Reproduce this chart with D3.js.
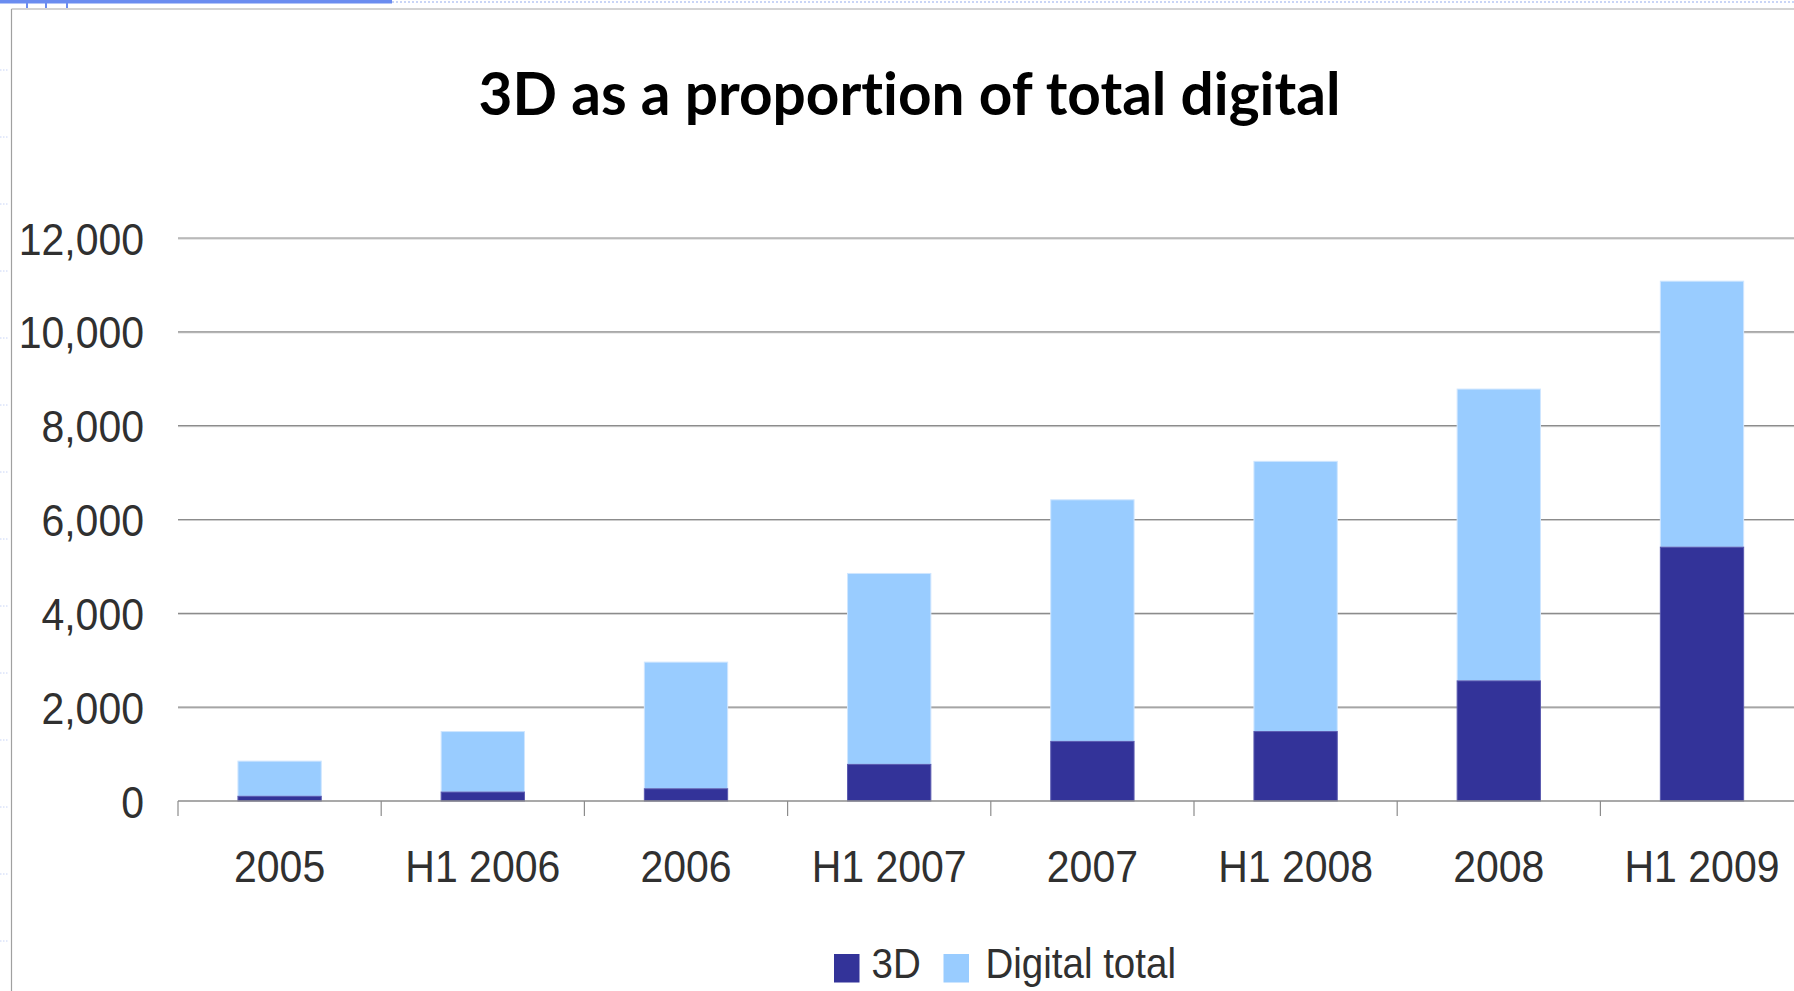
<!DOCTYPE html>
<html>
<head>
<meta charset="utf-8">
<script src="https://cdn.jsdelivr.net/npm/d3@7"></script>
<style>
  html, body { margin: 0; padding: 0; background: #ffffff; }
  svg { display: block; }
  .title { font-variant-ligatures: none; font-feature-settings: "liga" 0, "clig" 0; }
</style>
</head>
<body>
<svg id="chart" width="1794" height="991"></svg>
<script>
// Digital cinema screens: 3D screens vs. all digital screens
const categories = ["2005", "H1 2006", "2006", "H1 2007", "2007", "H1 2008", "2008", "H1 2009"];
const threeD = [100, 190, 260, 780, 1270, 1480, 2560, 5410];
const digitalTotal = [850, 1480, 2960, 4850, 6420, 7240, 8780, 11080];
const yTicks = [0, 2000, 4000, 6000, 8000, 10000, 12000];
const seriesNames = ["3D", "Digital total"];
const seriesColors = ["#333399", "#99ccff"];

const W = 1794, H = 991;
const svg = d3.select("#chart");

// slide frame and ruler strip along the top edge
svg.append("rect").attr("x", 0).attr("y", 0).attr("width", W).attr("height", H).attr("fill", "#ffffff");
svg.append("line").attr("x1", 11.5).attr("x2", 11.5).attr("y1", 9).attr("y2", H)
  .attr("stroke", "#a0a0a0").attr("stroke-width", 1.2);
svg.append("line").attr("x1", 11.5).attr("x2", W).attr("y1", 9).attr("y2", 9)
  .attr("stroke", "#a8a8a8").attr("stroke-width", 1.2);
svg.append("rect").attr("x", 0).attr("y", 0).attr("width", 392).attr("height", 3.5).attr("fill", "#6a8cf0");
svg.append("line").attr("x1", 392).attr("x2", W).attr("y1", 2).attr("y2", 2)
  .attr("stroke", "#b8c8f4").attr("stroke-width", 1.5).attr("stroke-dasharray", "2,2");
[27, 46, 67].forEach(px => {
  svg.append("line").attr("x1", px).attr("x2", px).attr("y1", 0).attr("y2", 8)
    .attr("stroke", "#6a8cf0").attr("stroke-width", 2);
});
d3.range(70, H, 67).forEach(py => {
  svg.append("line").attr("x1", 0).attr("x2", 8).attr("y1", py).attr("y2", py)
    .attr("stroke", "#c8d4f6").attr("stroke-width", 1).attr("stroke-dasharray", "1.5,1.5");
});

// title
svg.append("text")
  .attr("class", "title")
  .attr("x", 478.5).attr("y", 115)
  .attr("font-family", "Lato, 'Open Sans', sans-serif")
  .attr("font-weight", 700)
  .attr("font-size", 60)
  .attr("textLength", 862)
  .attr("lengthAdjust", "spacingAndGlyphs")
  .attr("fill", "#000000")
  .text("3D as a proportion of total digital");

// scales
const left = 178, right = 178 + 8 * 203.2;
const x = d3.scaleBand().domain(categories).range([left, right])
  .paddingInner(0.59).paddingOuter(0.295);
const y = d3.scaleLinear().domain([0, 12000]).range([801, 238]);

const labelFont = "'Liberation Sans', Arial, sans-serif";
const textColor = "#303030";

// horizontal gridlines
const grid = svg.append("g");
yTicks.filter(t => t > 0).forEach(t => {
  grid.append("line").attr("x1", left).attr("x2", W).attr("y1", y(t) + 1).attr("y2", y(t) + 1)
    .attr("stroke", "#cccccc").attr("stroke-width", 1);
  grid.append("line").attr("x1", left).attr("x2", W).attr("y1", y(t)).attr("y2", y(t))
    .attr("stroke", "#8c8c8c").attr("stroke-width", 1.2);
});

// y axis labels
const yAxis = svg.append("g").attr("transform", `translate(${left},0)`)
  .call(d3.axisLeft(y).tickValues(yTicks).tickFormat(d3.format(",")).tickSize(0).tickPadding(34));
yAxis.select(".domain").remove();
yAxis.selectAll("text")
  .attr("font-family", labelFont).attr("font-size", 41).attr("fill", textColor)
  .attr("y", 0).attr("dy", "0.358em")
  .attr("transform", "scale(1,1.1)");

// stacked bars: 3D at the base, remainder of the digital total above
const bars = svg.append("g");
bars.selectAll("rect.total").data(categories).join("rect")
  .attr("class", "total")
  .attr("x", d => x(d)).attr("width", x.bandwidth())
  .attr("y", (d, i) => y(digitalTotal[i]))
  .attr("height", (d, i) => y(threeD[i]) - y(digitalTotal[i]))
  .attr("fill", seriesColors[1]).attr("stroke", "#cfe6ff").attr("stroke-width", 1);
bars.selectAll("rect.threeD").data(categories).join("rect")
  .attr("class", "threeD")
  .attr("x", d => x(d)).attr("width", x.bandwidth())
  .attr("y", (d, i) => y(threeD[i]))
  .attr("height", (d, i) => y(0) - y(threeD[i]))
  .attr("fill", seriesColors[0]).attr("stroke", "#5a5ab0").attr("stroke-width", 1);

// x axis line, category separators and labels
svg.append("line").attr("x1", left).attr("x2", W).attr("y1", y(0)).attr("y2", y(0))
  .attr("stroke", "#8c8c8c").attr("stroke-width", 1.5);
const step = x.step();
d3.range(categories.length + 1).forEach(k => {
  const px = left + k * step;
  svg.append("line").attr("x1", px).attr("x2", px).attr("y1", y(0)).attr("y2", y(0) + 15)
    .attr("stroke", "#8c8c8c").attr("stroke-width", 1.2);
});
const xAxis = svg.append("g").attr("transform", `translate(0,${y(0)})`)
  .call(d3.axisBottom(x).tickSize(0));
xAxis.select(".domain").remove();
xAxis.selectAll("text")
  .attr("font-family", labelFont).attr("font-size", 41).attr("fill", textColor)
  .attr("y", 0).attr("dy", "0.358em")
  .attr("transform", "translate(0,64.5) scale(1,1.1)");

// legend
const legendItems = [
  { name: seriesNames[0], color: seriesColors[0], sx: 834, tx: 871.5 },
  { name: seriesNames[1], color: seriesColors[1], sx: 943.5, tx: 985.5 }
];
const legend = svg.append("g");
legendItems.forEach(it => {
  legend.append("rect").attr("x", it.sx).attr("y", 954).attr("width", 25.5).attr("height", 28.5)
    .attr("fill", it.color);
  legend.append("text")
    .attr("font-family", labelFont).attr("font-size", 38.5).attr("fill", textColor)
    .attr("x", 0).attr("y", 0)
    .attr("transform", `translate(${it.tx},977.7) scale(1,1.1)`)
    .text(it.name);
});
</script>
</body>
</html>
